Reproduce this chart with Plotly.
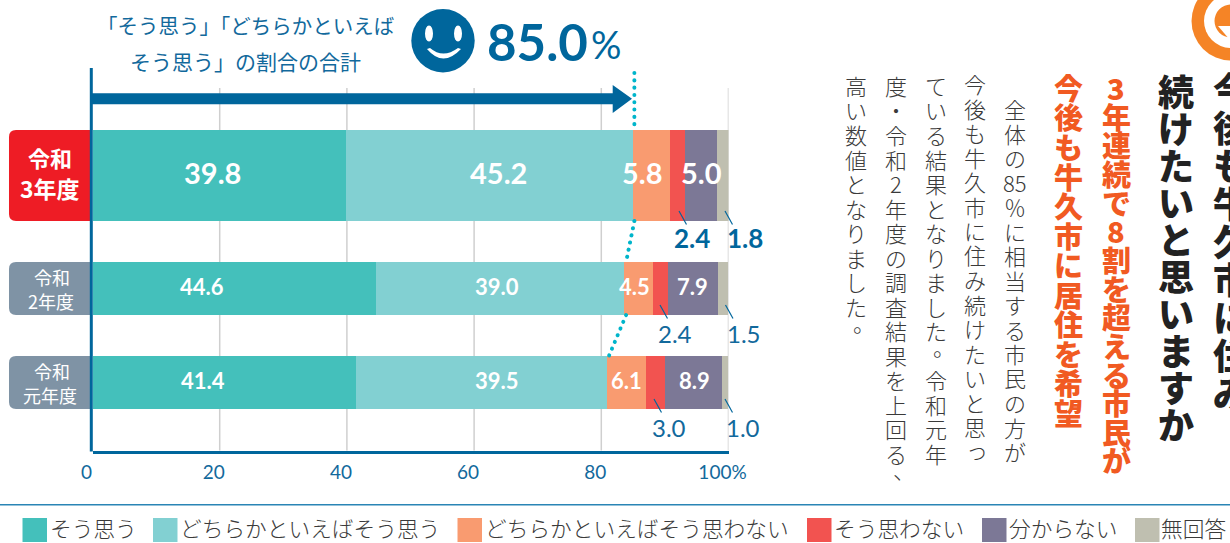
import plotly.graph_objects as go

W, H = 1230, 543
# ---------- data ----------
years = ["令和3年度", "令和2年度", "令和元年度"]
categories = ["そう思う", "どちらかといえばそう思う", "どちらかといえばそう思わない",
              "そう思わない", "分からない", "無回答"]
row_r3 = [39.8, 45.2, 5.8, 2.4, 5.0, 1.8]
row_r2 = [44.6, 39.0, 4.5, 2.4, 7.9, 1.5]
row_r1 = [41.4, 39.5, 6.1, 3.0, 8.9, 1.0]
rows = [row_r3, row_r2, row_r1]
colors = ["#44c0bb", "#82d0d2", "#f99b70", "#f25350", "#7c7896", "#bfbfb0"]
ticks = [0, 20, 40, 60, 80, 100]
tick_text = ["0", "20", "40", "60", "80", "100%"]
total = "85.0"

# ---------- layout constants (pixels of the page) ----------
X0, X100 = 92.5, 728.5
Y_TOP, Y_BOT = 68.0, 450.5
bar_top = [130, 262, 356]
bar_bot = [221, 315, 409]
bar_mid = [(a + b) / 2 for a, b in zip(bar_top, bar_bot)]
bar_h = [b - a for a, b in zip(bar_top, bar_bot)]
BLUE = "#00669c"
TXT = "#12699c"
JP = "Noto Sans CJK JP"
NUM = "Lato"

fig = go.Figure()
for i, cat in enumerate(categories):
    fig.add_trace(go.Bar(
        y=bar_mid, x=[r[i] for r in rows], width=bar_h, name=cat, orientation="h",
        marker=dict(color=colors[i], line=dict(width=0)), showlegend=False,
        hovertemplate="%{x}<extra>" + cat + "</extra>"))

shapes, ann = [], []


def text(x, y, s, size, color, weight=400, font=JP, xanchor="center"):
    ann.append(dict(xref="paper", yref="paper", x=x / W, y=1 - y / H, text=s,
                    showarrow=False, xanchor=xanchor, yanchor="middle",
                    font=dict(size=size, color=color, family=font, weight=weight), borderpad=0, borderwidth=0))


def rect(x0, y0, x1, y1, color, layer="above"):
    shapes.append(dict(type="rect", xref="paper", yref="paper", x0=x0 / W, x1=x1 / W,
                       y0=1 - y0 / H, y1=1 - y1 / H, fillcolor=color, line=dict(width=0), layer=layer))


def line(x0, y0, x1, y1, color, w):
    shapes.append(dict(type="line", xref="paper", yref="paper", x0=x0 / W, x1=x1 / W,
                       y0=1 - y0 / H, y1=1 - y1 / H, line=dict(color=color, width=w)))


def pathpx(points_cmd, fill, w=0, color=None):
    shapes.append(dict(type="path", xref="paper", yref="paper", path=points_cmd, fillcolor=fill,
                       line=dict(width=w, color=color or fill)))


def P(x, y):
    return f"{x / W:.6f},{1 - y / H:.6f}"


def circle(cx, cy, rx, ry, fill):
    shapes.append(dict(type="circle", xref="paper", yref="paper", x0=(cx - rx) / W, x1=(cx + rx) / W,
                       y0=1 - (cy - ry) / H, y1=1 - (cy + ry) / H, fillcolor=fill, line=dict(width=0)))


# gridlines (stop short of the axis top)
for t in ticks[1:]:
    shapes.append(dict(type="line", xref="x", yref="paper", x0=t, x1=t, y0=1 - Y_BOT / H, y1=1 - 88 / H,
                       line=dict(color="#cfcfcf", width=1.5), layer="below"))

# row tags
tag_fill = ["#ee1c25", "#7f93a5", "#7f93a5"]
tag_text = [["令和", "3年度"], ["令和", "2年度"], ["令和", "元年度"]]
for i in range(3):
    t, b = bar_top[i], bar_bot[i]
    l, r, c = 9, 91, 7
    pathpx(f"M{P(l + c, t)} L{P(r, t)} L{P(r, b)} L{P(l + c, b)} Q{P(l, b)} {P(l, b - c)} "
           f"L{P(l, t + c)} Q{P(l, t)} {P(l + c, t)} Z", tag_fill[i])
    if i == 0:
        text(50, 157, tag_text[i][0], 22, "white", 700)
        text(50, 188, tag_text[i][1], 23, "white", 700)
    else:
        text(52, bar_mid[i] - 12, tag_text[i][0], 18, "white", 400)
        text(50 + (i == 1), bar_mid[i] + 12, tag_text[i][1], 18, "white", 400)

# y axis line, drawn taller than the grid
line(91.3, Y_TOP, 91.3, Y_BOT + 1, BLUE, 3)

# arrow
pathpx(f"M{P(92, 93.3)} L{P(612.7, 93.3)} L{P(612.7, 85)} L{P(632, 98.7)} L{P(612.7, 113)} "
       f"L{P(612.7, 104.3)} L{P(92, 104.3)} Z", BLUE)

# dotted guide through the cumulative positive share
cum = [r[0] + r[1] for r in rows]
dot_segments = [
    ([cum[0] + 0.2, cum[0] + 0.2], [73, bar_top[0]]),
    ([cum[0] + 0.2, cum[1] + 0.3], [bar_bot[0], bar_top[1]]),
    ([cum[1] + 0.3, cum[2] + 0.3], [bar_bot[1], bar_top[2]]),
]
for xs, ys in dot_segments:
    fig.add_trace(go.Scatter(x=xs, y=ys, mode="lines", cliponaxis=False, showlegend=False, hoverinfo="skip",
                             line=dict(color="#00b5cb", width=4, dash="0.1px,7.2px")))

# segment labels inside bars
inside = [
    {0: (213, 29), 1: (498, 29), 2: (642.7, 29), 4: (701.7, 29)},
    {0: (202, 22), 1: (497, 22), 2: (634, 22), 4: (693, 22)},
    {0: (203, 22), 1: (497, 22), 2: (626, 22), 4: (694, 22)},
]
for i, row in enumerate(rows):
    for k, (lx, fs) in inside[i].items():
        text(lx, bar_mid[i] - 2.5, f"{row[k]:.1f}", fs, "white", 700, NUM)

# outside labels with leaders: (row, seg, label x, label y, leader start, size, bold)
outside = [
    (0, 3, 692, 238, 679, 26, True), (0, 5, 745, 238, 725, 26, True),
    (1, 3, 675, 333, 660, 24, False), (1, 5, 744, 333, 725.5, 24, False),
    (2, 3, 669, 427, 654, 24, False), (2, 5, 743, 427, 725, 24, False),
]
for i, k, lx, ly, sx, fs, b in outside:
    text(lx, ly, f"{rows[i][k]:.1f}", fs, BLUE if b else TXT, 700 if b else 400, NUM)
    line(sx, bar_bot[i] - 10, sx + 7.5, bar_bot[i] + 3.5, BLUE, 1.2)

# header
text(245, 25, "「そう思う」「どちらかといえば", 20.5, TXT, 400)
text(245, 61, "そう思う」の割合の合計", 21, TXT, 400)
circle(443, 40.7, 31.7, 31.7, BLUE)
circle(429, 33.5, 4, 8, "white")
circle(458, 33.5, 4, 8, "white")
pathpx(f"M{P(427, 49)} Q{P(443, 68)} {P(461, 49)} L{P(458, 48)} Q{P(443, 59)} {P(430, 48)} Z", "white")
text(487, 41, total, 51, BLUE, 700, NUM, "left")
text(591, 44, "%", 38, BLUE, 400, NUM, "left")

# legend rule and legend
line(0, 504.7, W, 504.7, "#2a85b5", 1.5)
swatch_x = [22.5, 153, 457.5, 807, 982, 1135]
label_x = [50, 180, 485, 834, 1009, 1161]
for sx, lx, c, cat in zip(swatch_x, label_x, colors, categories):
    rect(sx, 518, sx + 24.5, 542, c)
    text(lx, 527.5, cat, 21.7, "#3a3a3a", 300, JP, "left")


# vertical text, one cell at a time
def vertical(s, cx, y0, pitch, size, color, weight=400):
    for j, cell in enumerate(s):
        dx = dy = 0
        if cell in "。、":
            dx, dy = size * 0.36, -size * 0.38
        elif cell == "っ":
            dx, dy = size * 0.08, -size * 0.08
        text(cx + dx, y0 + j * pitch + dy, cell, size, color, weight)


body = [
    (["全", "体", "の", "85", "％", "に", "相", "当", "す", "る", "市", "民", "の", "方", "が"], 1015, 108),
    (list("今後も牛久市に住み続けたいと思っ"), 975, 83),
    (list("ている結果となりました。令和元年"), 936, 85),
    (list("度・令和2年度の調査結果を上回る、"), 896, 85),
    (list("高い数値となりました。"), 856, 85),
]
for s, cx, y0 in body:
    vertical(s, cx, y0, 24.5, 22, "#3a3a3a", 300)
vertical(list("3年連続で8割を超える市民が"), 1116, 87, 28.65, 29, "#f15a22", 900)
vertical(list("今後も牛久市に居住を希望"), 1068, 87, 29.5, 29, "#f15a22", 900)
vertical(list("続けたいと思いますか"), 1176, 90, 37, 36, "#222222", 900)
vertical(list("今後も牛久市に住み"), 1231, 88, 38, 36, "#222222", 900)

# Q badge
circle(1231, 21, 39.5, 39.5, "#f58426")
circle(1231, 21, 27, 27, "white")
circle(1231, 21, 16.5, 16.5, "#f58426")
pathpx(f"M{P(1218, 26)} L{P(1230, 26)} L{P(1230, 40)} Z", "white")

fig.update_layout(
    width=W, height=H, autosize=False, paper_bgcolor="white", plot_bgcolor="rgba(0,0,0,0)",
    margin=dict(l=0, r=0, t=0, b=0, autoexpand=False), barmode="stack", showlegend=False,
    xaxis=dict(domain=[X0 / W, X100 / W], range=[0, 100], tickvals=ticks, ticktext=tick_text,
               showgrid=False, zeroline=False, showline=True, linecolor=BLUE, linewidth=3,
               ticks="", ticklabelshift=-6, ticklabelstandoff=3, automargin=False,
               tickfont=dict(family=NUM, size=19, color=TXT, weight=400)),
    yaxis=dict(domain=[1 - Y_BOT / H, 1 - Y_TOP / H], range=[Y_BOT, Y_TOP], showticklabels=False,
               showgrid=False, zeroline=False, showline=False, ticks="", automargin=False),
    shapes=shapes, annotations=ann,
)
fig.write_html(
    "out.html",
    config={"displayModeBar": False},
    post_script="document.documentElement.style.overflow='hidden';document.body.style.margin='0';"
                "document.head.insertAdjacentHTML('beforeend',"
                "'<style>.scatterlayer .js-line{stroke-linecap:round}</style>');",
)
